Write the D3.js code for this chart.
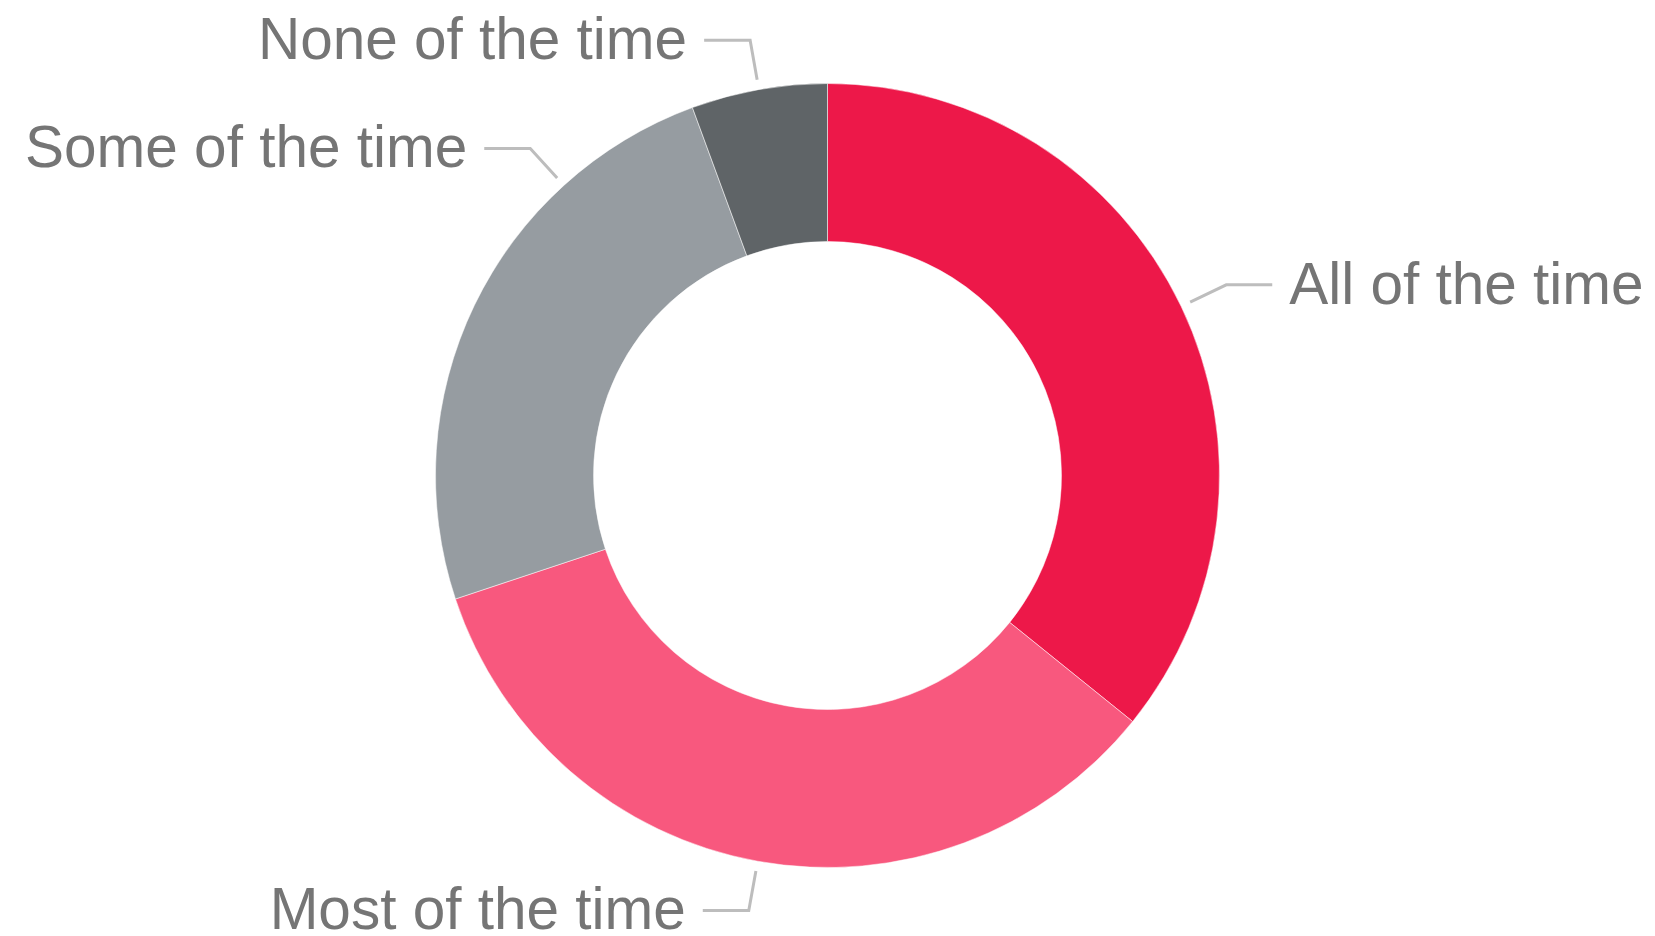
<!DOCTYPE html>
<html>
<head>
<meta charset="utf-8">
<script src="https://cdn.jsdelivr.net/npm/d3@7"></script>
<style>
  html, body { margin: 0; padding: 0; background: #ffffff; }
  svg { display: block; }
</style>
</head>
<body>
<svg id="chart" width="1655" height="936"></svg>
<script>
// ---- data ----
const categories = ["All of the time", "Most of the time", "Some of the time", "None of the time"];
const values = [35.8, 34.1, 24.5, 5.6];
const colors = ["#ED1849", "#F8587E", "#969CA1", "#5F6467"];

// ---- layout (label connector angle tweak for readability, degrees) ----
const labelAngleShift = [0, 0, 22, 0];

const W = 1655, H = 936;
const cx = 827.5, cy = 475.5;
const outerR = 392, innerR = 234;

const svg = d3.select("#chart");
const g = svg.append("g").attr("transform", `translate(${cx},${cy})`);

const pie = d3.pie().sort(null).value(d => d.value);
const arcs = pie(categories.map((c, i) => ({ name: c, value: values[i], color: colors[i], shift: labelAngleShift[i] })));

const arc = d3.arc().innerRadius(innerR).outerRadius(outerR);

g.selectAll("path.slice")
  .data(arcs)
  .join("path")
  .attr("class", "slice")
  .attr("d", arc)
  .attr("fill", d => d.data.color)
  .attr("stroke", "rgba(255,255,255,0.5)")
  .attr("stroke-width", 1);

const r1 = outerR + 10, r2 = outerR + 50, hLen = 46, gap = 17;
const fontSize = 58.5;

arcs.forEach(d => {
  const a = (d.startAngle + d.endAngle) / 2 + d.data.shift * Math.PI / 180;
  const p1 = [r1 * Math.sin(a), -r1 * Math.cos(a)];
  const p2 = [r2 * Math.sin(a), -r2 * Math.cos(a)];
  const right = Math.sin(a) >= 0;
  const p3 = [p2[0] + (right ? hLen : -hLen), p2[1]];
  g.append("path")
    .attr("d", d3.line()([p1, p2, p3]))
    .attr("fill", "none")
    .attr("stroke", "#BDBDBD")
    .attr("stroke-width", 3);
  g.append("text")
    .attr("x", p3[0] + (right ? gap : -gap))
    .attr("y", p3[1])
    .attr("dy", "0.32em")
    .attr("text-anchor", right ? "start" : "end")
    .attr("font-family", "'Liberation Sans', Arial, sans-serif")
    .attr("font-size", fontSize)
    .attr("fill", "#757575")
    .text(d.data.name);
});
</script>
</body>
</html>
